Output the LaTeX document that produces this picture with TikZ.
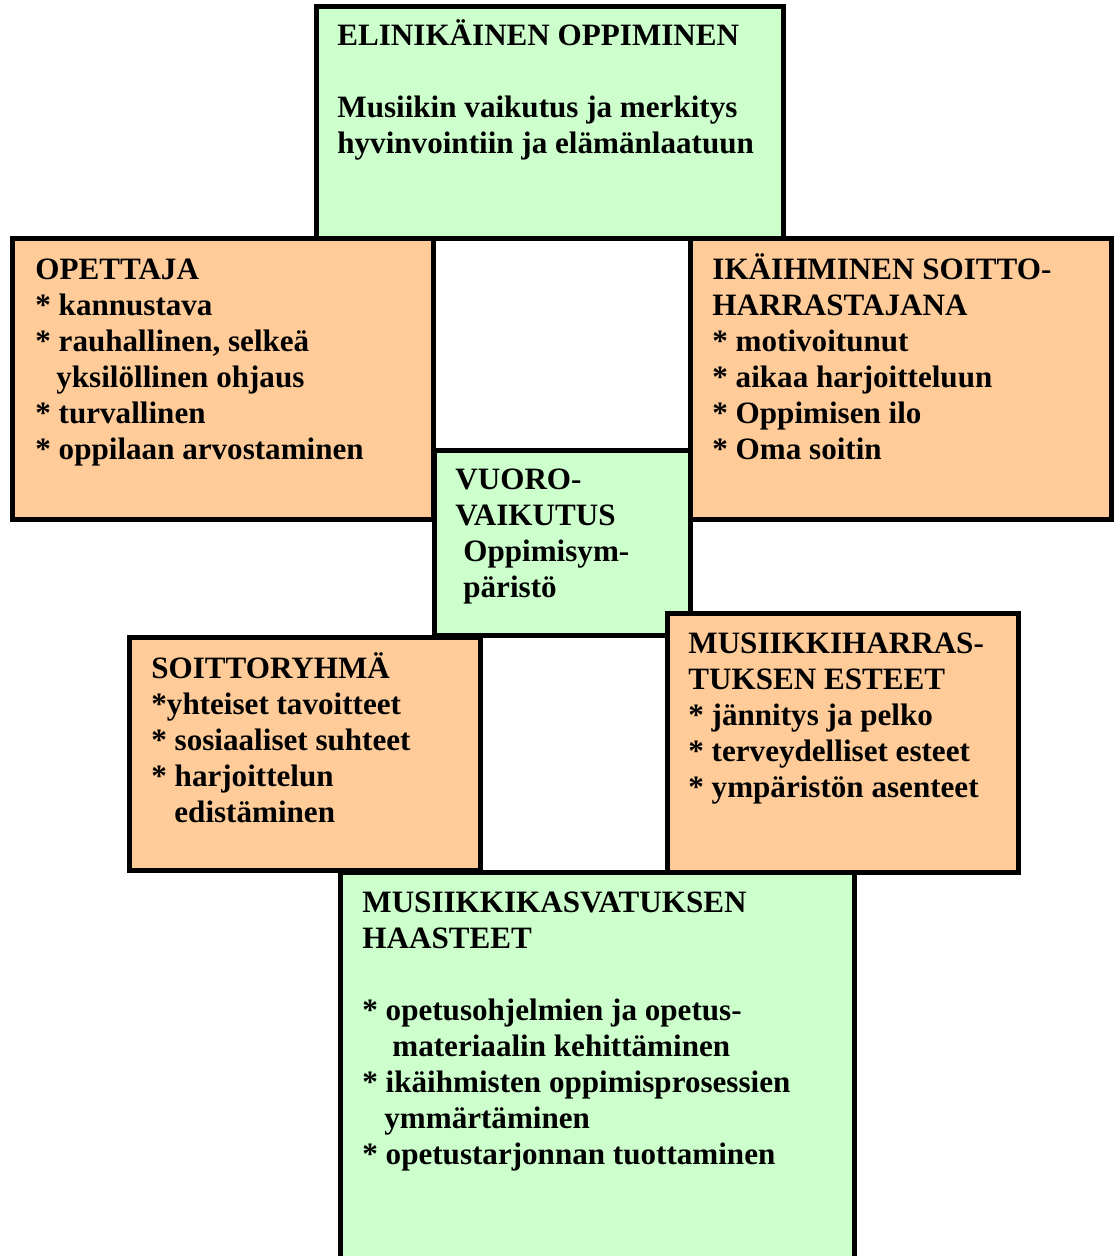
\documentclass[tikz,border=0pt]{standalone}
\usepackage{fontspec}
\setmainfont{Liberation Serif}
\usetikzlibrary{fit}
\definecolor{boxgreen}{HTML}{CCFFCC}
\definecolor{boxorange}{HTML}{FFCC99}
\newcommand\boxlines[1]{\vtop{\baselineskip=18pt\lineskiplimit=-100pt\lineskip=0pt #1}}
\newcommand\rowtxt[1]{\hbox{#1}}
\tikzset{
  panel/.style={draw=black, line width=2.5pt, inner sep=0pt},
  greenpanel/.style={panel, fill=boxgreen},
  orangepanel/.style={panel, fill=boxorange},
  txt/.style={inner sep=0pt, anchor=base west, font=\fontsize{15.55pt}{18pt}\selectfont\bfseries},
}
\begin{document}
\begin{tikzpicture}[x=0.5pt, y=-0.5pt]
\useasboundingbox (0,0) rectangle (1117,1256);
\clip (0,0) rectangle (1117,1256);
\fill[white] (0,0) rectangle (1117,1256);

% boxes
\node[greenpanel, fit={(316,7) (783,239)}] (life) {};
\node[orangepanel, fit={(12,239) (433,519)}] (teacher) {};
\node[orangepanel, fit={(690,239) (1111,519)}] (senior) {};
\node[greenpanel, fit={(434,450) (690,635)}] (inter) {};
\node[orangepanel, fit={(129,637) (480,870)}] (group) {};
\node[orangepanel, fit={(667,613) (1018,872)}] (obst) {};
\node[greenpanel, fit={(340,872) (854,1280)}] (chall) {};

% texts
\node[txt] (lifetxt) at (337,46) {\boxlines{%
  \rowtxt{ELINIKÄINEN OPPIMINEN}\rowtxt{}%
  \rowtxt{Musiikin vaikutus ja merkitys}%
  \rowtxt{hyvinvointiin ja elämänlaatuun}}};

\node[txt] (teachertxt) at (35,280) {\boxlines{%
  \rowtxt{OPETTAJA}%
  \rowtxt{* kannustava}%
  \rowtxt{* rauhallinen, selkeä}%
  \rowtxt{\hspace*{10.5pt}yksilöllinen ohjaus}%
  \rowtxt{* turvallinen}%
  \rowtxt{* oppilaan arvostaminen}}};

\node[txt] (seniortxt) at (712,280) {\boxlines{%
  \rowtxt{IKÄIHMINEN SOITTO-}%
  \rowtxt{HARRASTAJANA}%
  \rowtxt{* motivoitunut}%
  \rowtxt{* aikaa harjoitteluun}%
  \rowtxt{* Oppimisen ilo}%
  \rowtxt{* Oma soitin}}};

\node[txt] (intertxt) at (455,489) {\boxlines{%
  \rowtxt{VUORO-}%
  \rowtxt{VAIKUTUS}%
  \rowtxt{\hspace*{4pt}Oppimisym-}%
  \rowtxt{\hspace*{4pt}päristö}}};

\node[txt] (grouptxt) at (151,678) {\boxlines{%
  \rowtxt{SOITTORYHMÄ}%
  \rowtxt{*yhteiset tavoitteet}%
  \rowtxt{* sosiaaliset suhteet}%
  \rowtxt{* harjoittelun}%
  \rowtxt{\hspace*{11.5pt}edistäminen}}};

\node[txt] (obsttxt) at (688,653) {\boxlines{%
  \rowtxt{MUSIIKKIHARRAS-}%
  \rowtxt{TUKSEN ESTEET}%
  \rowtxt{* jännitys ja pelko}%
  \rowtxt{* terveydelliset esteet}%
  \rowtxt{* ympäristön asenteet}}};

\node[txt] (challtxt) at (362,912) {\boxlines{%
  \rowtxt{MUSIIKKIKASVATUKSEN}%
  \rowtxt{HAASTEET}%
  \rowtxt{}%
  \rowtxt{* opetusohjelmien ja opetus-}%
  \rowtxt{\hspace*{15pt}materiaalin kehittäminen}%
  \rowtxt{* ikäihmisten oppimisprosessien}%
  \rowtxt{\hspace*{11pt}ymmärtäminen}%
  \rowtxt{* opetustarjonnan tuottaminen}}};
\end{tikzpicture}
\end{document}
